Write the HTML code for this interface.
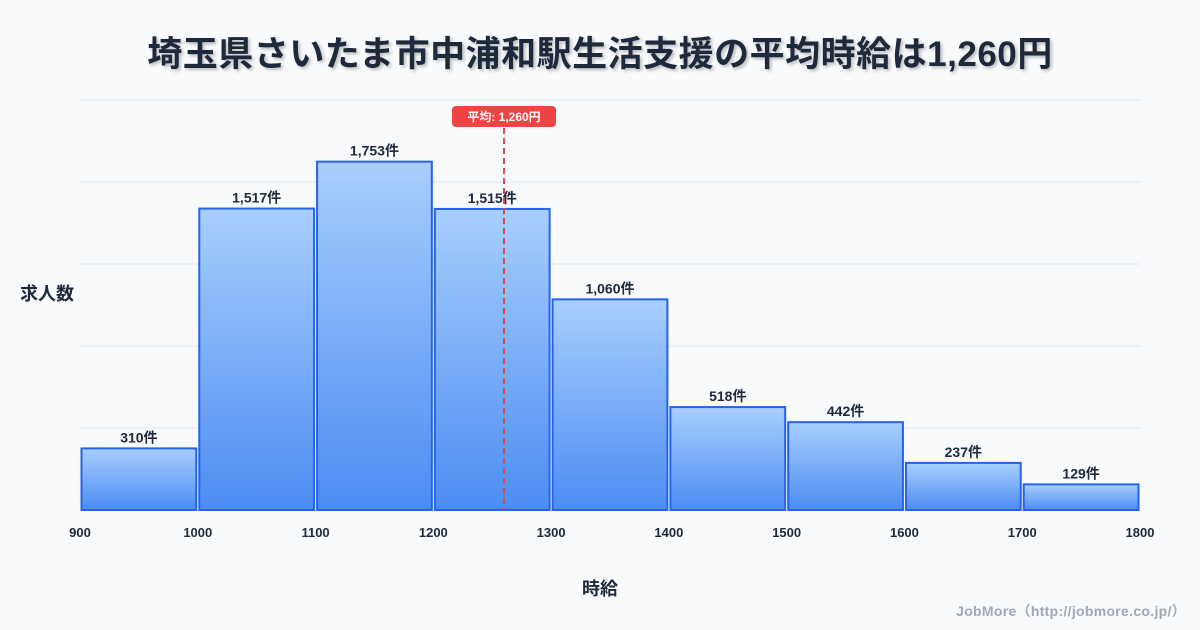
<!DOCTYPE html>
<html><head><meta charset="utf-8">
<style>
body{margin:0;background:#f8fafc;}
#wrap{position:relative;width:1200px;height:630px;background:#f8fafc;font-family:"Liberation Sans","Noto Sans CJK JP",sans-serif;overflow:hidden;}
.title{position:absolute;left:0;top:26px;width:1200px;text-align:center;font-size:35px;font-weight:bold;color:#1e293b;text-shadow:2px 2px 3px rgba(0,0,0,0.25);letter-spacing:0.5px;}
.ylab{position:absolute;left:20px;top:280px;font-size:18px;font-weight:bold;color:#1e293b;}
.xlab{position:absolute;left:0;width:1200px;top:575px;text-align:center;font-size:18px;font-weight:bold;color:#1e293b;}
.credit{position:absolute;right:14px;top:601px;font-size:14px;font-weight:bold;color:#a0a8b4;letter-spacing:0.3px;}
</style></head><body>
<div id="wrap">
<div class="title">埼玉県さいたま市中浦和駅生活支援の平均時給は1,260円</div>
<div class="ylab">求人数</div>
<div class="xlab">時給</div>
<div class="credit">JobMore（http://jobmore.co.jp/）</div>
<svg id="svg" width="1200" height="630" style="position:absolute;left:0;top:0">
<defs><linearGradient id="g" x1="0" y1="0" x2="0" y2="1"><stop offset="0" stop-color="#a8cffd"/><stop offset="1" stop-color="#4c8cf2"/></linearGradient></defs>
</svg>
</div>
<script>
const binStarts=[900,1000,1100,1200,1300,1400,1500,1600,1700];
const counts=[310,1517,1753,1515,1060,518,442,237,129];
const xTicks=[900,1000,1100,1200,1300,1400,1500,1600,1700,1800];
const meanValue=1260;
const binWidth=100;
const NS="http://www.w3.org/2000/svg";
const svg=document.getElementById('svg');
const X0=80,X1=1140,Y0=510,Y1=100;
const xMin=900,xMax=1800,yMax=Math.max(...counts)*1.177;
const x=v=>X0+(v-xMin)/(xMax-xMin)*(X1-X0);
const y=v=>Y0-v/yMax*(Y0-Y1);
function mk(tag,attrs){const e=document.createElementNS(NS,tag);for(const k in attrs)e.setAttribute(k,attrs[k]);svg.appendChild(e);return e;}
for(let i=0;i<=5;i++){
  const gy=Y0-i*(Y0-Y1)/5;
  const l=mk('line',{x1:X0,x2:X1,y1:gy,y2:gy,stroke:'#e2e8f0','stroke-width':1});
  
  
}
counts.forEach((c,i)=>{
  const xa=x(binStarts[i])+1.5,xb=x(binStarts[i]+binWidth)-1.5;
  const r=mk('rect',{x:xa,y:y(c),width:xb-xa,height:Y0-y(c),fill:'url(#g)',stroke:'#2563eb','stroke-width':2});
  
  
  const t=mk('text',{x:(xa+xb)/2,y:y(c)-6,'text-anchor':'middle','font-size':14,'font-weight':'bold',fill:'#1e293b'});
  t.textContent=c.toLocaleString('en-US')+'件';
  
  
});
xTicks.forEach(v=>{
  const t=mk('text',{x:x(v),y:537,'text-anchor':'middle','font-size':13,'font-weight':'bold',fill:'#1e293b'});
  t.textContent=v;
  
  
});
const mx=x(meanValue);
const ml=mk('line',{x1:mx,x2:mx,y1:128,y2:Y0,stroke:'#dc4a4a','stroke-width':2,'stroke-dasharray':'6,4'});


const mb=mk('rect',{x:mx-52,y:106,width:104,height:21,rx:4,fill:'#ef4444'});


const mt=mk('text',{x:mx,y:121,'text-anchor':'middle','font-size':12,'font-weight':'bold',fill:'#fff'});
mt.textContent='平均: '+meanValue.toLocaleString('en-US')+'円';


</script>
</body></html>
